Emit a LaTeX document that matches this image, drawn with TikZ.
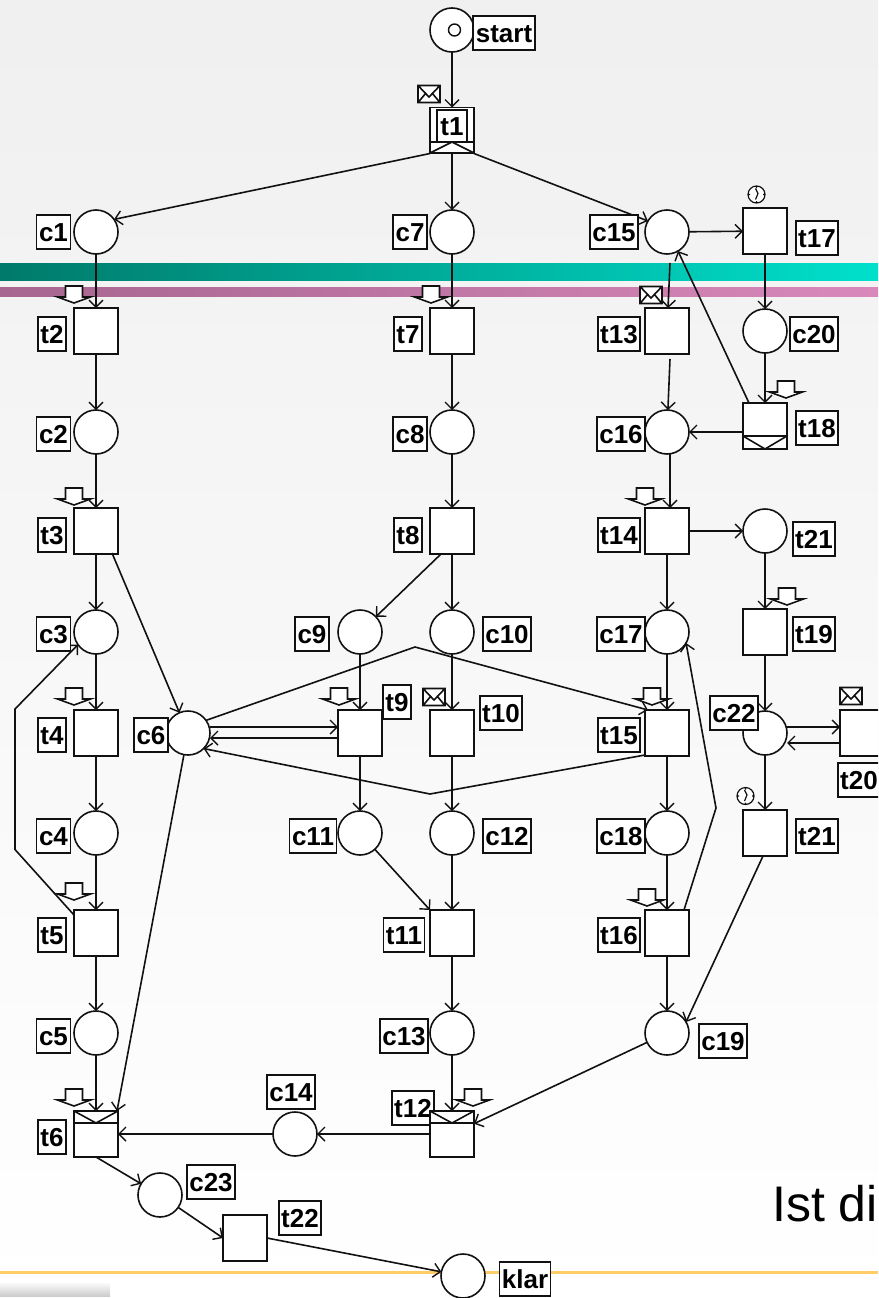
\documentclass[tikz,border=0pt]{standalone}
\usepackage{fontspec}
\setmainfont{Liberation Sans}
\usetikzlibrary{arrows.meta}
\definecolor{linecol}{HTML}{111111}
\definecolor{tealL}{HTML}{007A6A}
\definecolor{tealR}{HTML}{00E0CC}
\definecolor{pinkL}{HTML}{A6668F}
\definecolor{pinkR}{HTML}{D988BB}
\definecolor{yellowline}{HTML}{FFCC66}
\tikzset{
  placec/.style={circle,draw=linecol,fill=white,line width=1.6pt,minimum size=44pt,inner sep=0pt,outer sep=0pt},
  trans/.style={rectangle,draw=linecol,fill=white,line width=1.6pt,minimum width=44pt,minimum height=46pt,inner sep=0pt,outer sep=0pt},
  lab/.style={rectangle,draw=linecol,fill=white,line width=1.7pt,font=\fontsize{26}{26}\selectfont\bfseries,text=black,text height=19pt,text depth=0.5pt,minimum height=34pt,inner xsep=2.5pt,inner ysep=3pt,outer sep=0pt},
  arc/.style={draw=linecol,line width=1.6pt,-{Straight Barb[length=7pt,width=14pt,line width=1.4pt]}},
  deco/.style={draw=linecol,line width=1.6pt,fill=white,line join=miter},
  thin deco/.style={draw=linecol,line width=1.2pt,fill=white},
}
\newcommand{\pl}[2]{\node[placec] (#1) at (#2) {};}
\newcommand{\tr}[2]{\node[trans] (#1) at (#2) {};}
\newcommand{\lb}[3]{\node[lab] (l#1) at (#2) {#3};}
\newcommand{\dnmark}[2]{\draw[deco,shift={(#1,#2)}] (-8.5,0) -- (8.5,0) -- (8.5,11) -- (16.5,11) -- (0,17) -- (-16.5,11) -- (-8.5,11) -- cycle;}
\newcommand{\envel}[2]{\draw[deco,shift={(#1,#2)}] (-11,-8.5) rectangle (11,8.5) (-11,-8.5) -- (0,3) -- (11,-8.5) (-11,8.5) -- (-3,-1) (11,8.5) -- (3,-1);}
\newcommand{\clockm}[2]{\draw[thin deco,shift={(#1,#2)}] (0,0) circle (8.5) (0,-8.5) -- (0,-6.5) (0,8.5) -- (0,6.5) (-8.5,0) -- (-6.5,0) (8.5,0) -- (6.5,0) (-1,-6) -- (1.5,-1) -- (-1,5);}
\begin{document}
\begin{tikzpicture}[x=1pt,y=-1pt]
\useasboundingbox (0,0) rectangle (878,1298);
\clip (0,0) rectangle (878,1298);
% background
\fill[top color=white!94!black,bottom color=white] (0,0) rectangle (878,1298);
\fill[left color=tealL,right color=tealR] (0,263) rectangle (878,280);
\fill[left color=pinkL,right color=pinkR] (0,287) rectangle (878,296);
\fill[yellowline] (0,1271) rectangle (878,1273.7);
\fill[top color=white!98!black,bottom color=white!80!black] (0,1283) rectangle (110,1296);
\node[anchor=base west,font=\fontsize{50}{50}\selectfont,inner sep=0pt,text=black] (ist) at (772,1221) {Ist di};
% labels behind transitions
\lb{t12}{413,1108}{t12}
% places
\pl{start}{452,30}
\draw[draw=linecol,line width=1.4pt] (start.center) ++(2.5,0) circle (6);
\pl{c1}{96,232}\pl{c7}{452,232}\pl{c15}{667,232}
\pl{c2}{96,432}\pl{c8}{452,432}\pl{c16}{667,432}
\pl{c3}{96,632}\pl{c9}{360,632}\pl{c10}{452,632}\pl{c17}{667,632}
\pl{c6}{188,733}\pl{c22}{765,733}
\pl{c4}{96,833}\pl{c11}{360,833}\pl{c12}{452,833}\pl{c18}{667,833}
\pl{c5}{96,1033}\pl{c13}{452,1033}\pl{c19}{667,1033}
\pl{c14}{295,1134}\pl{c23}{160,1195}\pl{klar}{463,1276}
\pl{c20}{765,331}\pl{c21}{765,531}
% transitions
\tr{t1}{452,130.5}
\tr{t2}{96,331}\tr{t7}{452,331}\tr{t13}{667,331}\tr{t17}{765,231}\tr{t18}{765,426}
\tr{t3}{96,531}\tr{t8}{452,531}\tr{t14}{667,531}\tr{t19}{765,632}
\tr{t4}{96,733}\tr{t9}{360,733}\tr{t10}{452,733}\tr{t15}{667,733}\tr{t20}{862,733}\tr{t21}{765,833}
\tr{t5}{96,933}\tr{t11}{452,933}\tr{t16}{667,933}
\tr{t6}{96,1134}\tr{t12}{452,1134}\tr{t22}{245,1238}
% trigger / join bands
\draw[deco] (430,142) rectangle (474,153) (430,153) -- (452,142) -- (474,153);
\draw[deco] (743,436) rectangle (787,449) (743,436) -- (765,449) -- (787,436);
\draw[deco] (74,1111) rectangle (118,1123) (74,1111) -- (96,1123) -- (118,1111);
\draw[deco] (430,1111) rectangle (474,1123) (430,1111) -- (452,1123) -- (474,1111);
% connectors
\draw[arc] (start) -- (t1);
\draw[arc] (t1.south west) -- (c1.35);
\draw[arc] (t1.south) -- (c7);
\draw[arc] (t1.south east) -- (c15.150);
\draw[arc] (c1) -- (t2);\draw[arc] (t2) -- (c2);\draw[arc] (c2) -- (t3);\draw[arc] (t3) -- (c3);
\draw[arc] (c3) -- (t4);\draw[arc] (t4) -- (c4);\draw[arc] (c4) -- (t5);\draw[arc] (t5) -- (c5);\draw[arc] (c5) -- (t6);
\draw[arc] (c7) -- (t7);\draw[arc] (t7) -- (c8);\draw[arc] (c8) -- (t8);
\draw[arc] (t8) -- (c10);\draw[arc] (c10) -- (t10);\draw[arc] (t10) -- (c12);\draw[arc] (c12) -- (t11);
\draw[arc] (t11) -- (c13);\draw[arc] (c13) -- (t12);
\draw[arc] ([xshift=-11pt]t8.south) -- (c9);
\draw[arc] (c9) -- (t9);\draw[arc] (t9) -- (c11);
\draw[arc] (c11) -- (t11.north west);
\draw[arc] ([xshift=16pt,yshift=-22pt]t3.center) -- (c6);
\draw[arc] (c6) -- ([xshift=-1pt,yshift=23pt]t6.east);
\draw[arc] ([yshift=6pt]c6.east) -- ([yshift=6pt]t9.west);
\draw[arc] ([yshift=-5pt]t9.west) -- ([yshift=-5pt]c6.east);
\draw[arc] (c6.35) -- (415,647) -- ([xshift=-19pt]t15.north);
\draw[arc] ([yshift=-22pt]t15.west) -- (430,794) -- (c6.-45);
\draw[arc] (c15) -- (t17);\draw[arc] (t17) -- (c20);\draw[arc] (c20) -- (t18);
\draw[arc] (t18.west) ++(0,6) -- (c16);
\draw[arc] ([xshift=6pt]t18.north west) -- (c15.-60);
\draw[arc] ([xshift=3pt,yshift=-31pt]c15.center) -- (t13);
\draw[arc] ([xshift=3pt,yshift=-5pt]t13.south) -- (c16);
\draw[arc] ([xshift=3pt]c16.south) -- ([xshift=3pt]t14.north);
\draw[arc] (t14) -- (c17);\draw[arc] (c17) -- (t15);\draw[arc] (t15) -- (c18);\draw[arc] (c18) -- (t16);\draw[arc] (t16) -- (c19);
\draw[arc] (t14) -- (c21);\draw[arc] (c21) -- (t19);\draw[arc] (t19) -- (c22);
\draw[arc] ([yshift=6pt]c22.east) -- ([yshift=6pt]t20.west);
\draw[arc] ([yshift=-10pt]t20.west) -- ([yshift=-10pt]c22.east);
\draw[arc] (c22) -- (t21);
\draw[arc] ([xshift=-2pt]t21.south) -- (c19.30);
\draw[arc] ([xshift=17pt]t16.north) -- (716,808) -- (c17.-30);
\draw[arc] ([yshift=18pt]t5.west) -- (15,849.5) -- (15,709) -- (c3.-145);
\draw[arc] (t12.west) -- (c14);
\draw[arc] (c14) -- (t6);
\draw[arc] (c19) -- (t12);
\draw[arc] (t6.south) -- (c23);
\draw[arc] (c23) -- (t22.west);
\draw[arc] (t22.east) -- (klar);
% labels
\lb{start}{504,33}{start}
\lb{c1}{53.5,232}{c1}\lb{c7}{410,232}{c7}\lb{c15}{614,232}{c15}\lb{t17}{817,238}{t17}
\lb{c20}{814,334}{c20}\lb{t13}{619,334}{t13}\lb{t2}{52,334}{t2}\lb{t7}{408,334}{t7}
\lb{c2}{53.5,434}{c2}\lb{c8}{410,434}{c8}\lb{c16}{621,434}{c16}\lb{t18}{817,428}{t18}
\lb{t3}{52,535}{t3}\lb{t8}{408,535}{t8}\lb{t14}{619,535}{t14}\lb{p21}{814,539}{t21}
\lb{c3}{53.5,634}{c3}\lb{c9}{312,634}{c9}\lb{c10}{507,634}{c10}\lb{c17}{621,634}{c17}\lb{t19}{814,634}{t19}
\lb{t4}{52,735}{t4}\lb{c6}{151,735}{c6}\lb{t9}{397,702}{t9}\lb{t10}{501,713}{t10}\lb{t15}{619,735}{t15}\lb{c22}{734,713}{c22}\lb{t20}{859,780}{t20}
\lb{c4}{53.5,836}{c4}\lb{c11}{313,836}{c11}\lb{c12}{507,836}{c12}\lb{c18}{621,836}{c18}\lb{t21}{817,836}{t21}
\lb{t5}{52,935}{t5}\lb{t11}{404,935}{t11}\lb{t16}{619,935}{t16}
\lb{c5}{53.5,1036}{c5}\lb{c13}{404,1036}{c13}\lb{c19}{723,1041}{c19}
\lb{c14}{291,1092}{c14}\lb{t6}{52,1137}{t6}\lb{c23}{211,1182}{c23}\lb{t22}{300,1218}{t22}\lb{klar}{525,1279}{klar}
\node[lab,minimum height=32pt,minimum width=30pt,inner xsep=0pt] (lt1) at (452,126) {t1};
% event markers
\dnmark{74}{286}\dnmark{431}{286}\dnmark{786}{381}\dnmark{74}{488}\dnmark{645}{488}\dnmark{787}{588}
\dnmark{74}{688}\dnmark{339}{688}\dnmark{652}{688}\dnmark{74}{883}\dnmark{647}{889}\dnmark{74}{1089}\dnmark{473}{1089}
\envel{429}{94}\envel{651}{295}\envel{434}{697}\envel{851}{696}
\clockm{756.5}{194.5}\clockm{745.5}{796}
\end{tikzpicture}
\end{document}
